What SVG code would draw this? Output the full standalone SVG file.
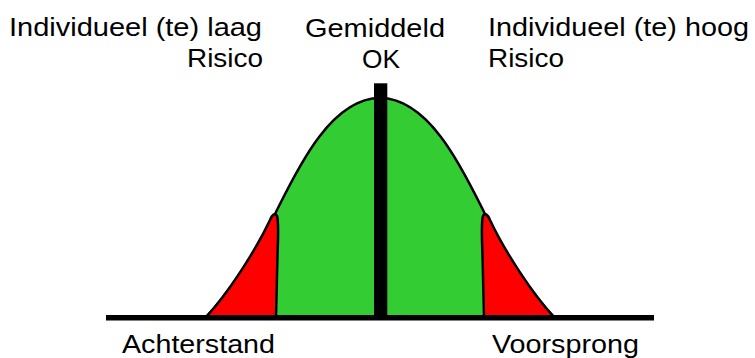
<svg xmlns="http://www.w3.org/2000/svg" width="755" height="358" viewBox="0 0 755 358">
<style>
text{font-family:"Liberation Sans",Arial,sans-serif;font-size:26px;fill:#000}
.g{fill:#33CC33;stroke:#000;stroke-width:2.5;stroke-linejoin:round}
.r{fill:#FF0000;stroke:#000;stroke-width:2.5;stroke-linejoin:round}
</style>
<rect width="755" height="358" fill="#fff"/>
<g id="bell">
<path class="g" d="M206,317 C226,296 258,250 276,212 C296,172 330,98 380,98 C430,98 464,172 484,212 C502,250 534,296 554,317 Z"/>
</g>
<g id="red-left">
<path class="r" d="M206,317 C226,296 255,252 270,220 C272,215 275,212 277,216 C279,222 278,240 277.5,255 L276,317 Z"/>
</g>
<g id="red-right">
<path class="r" d="M554,317 C534,296 505,252 490,220 C488,215 485,212 483,216 C481,222 482,240 482.5,255 L484,317 Z"/>
</g>
<g id="axis">
<line x1="106" y1="317.75" x2="654" y2="317.75" stroke="#000" stroke-width="5.5"/>
<rect x="374" y="83.3" width="13.3" height="236" fill="#000"/>
</g>
<g id="labels">
<text x="9" y="36" textLength="253" lengthAdjust="spacingAndGlyphs">Individueel (te) laag</text>
<text x="187" y="67" textLength="76" lengthAdjust="spacingAndGlyphs">Risico</text>
<text x="305" y="36.5" textLength="140" lengthAdjust="spacingAndGlyphs">Gemiddeld</text>
<text x="362" y="67.5" textLength="38" lengthAdjust="spacingAndGlyphs">OK</text>
<text x="488" y="36" textLength="261" lengthAdjust="spacingAndGlyphs">Individueel (te) hoog</text>
<text x="488" y="67" textLength="76" lengthAdjust="spacingAndGlyphs">Risico</text>
<text x="122" y="353" textLength="153" lengthAdjust="spacingAndGlyphs">Achterstand</text>
<text x="492" y="353" textLength="147" lengthAdjust="spacingAndGlyphs">Voorsprong</text>
</g>
</svg>
